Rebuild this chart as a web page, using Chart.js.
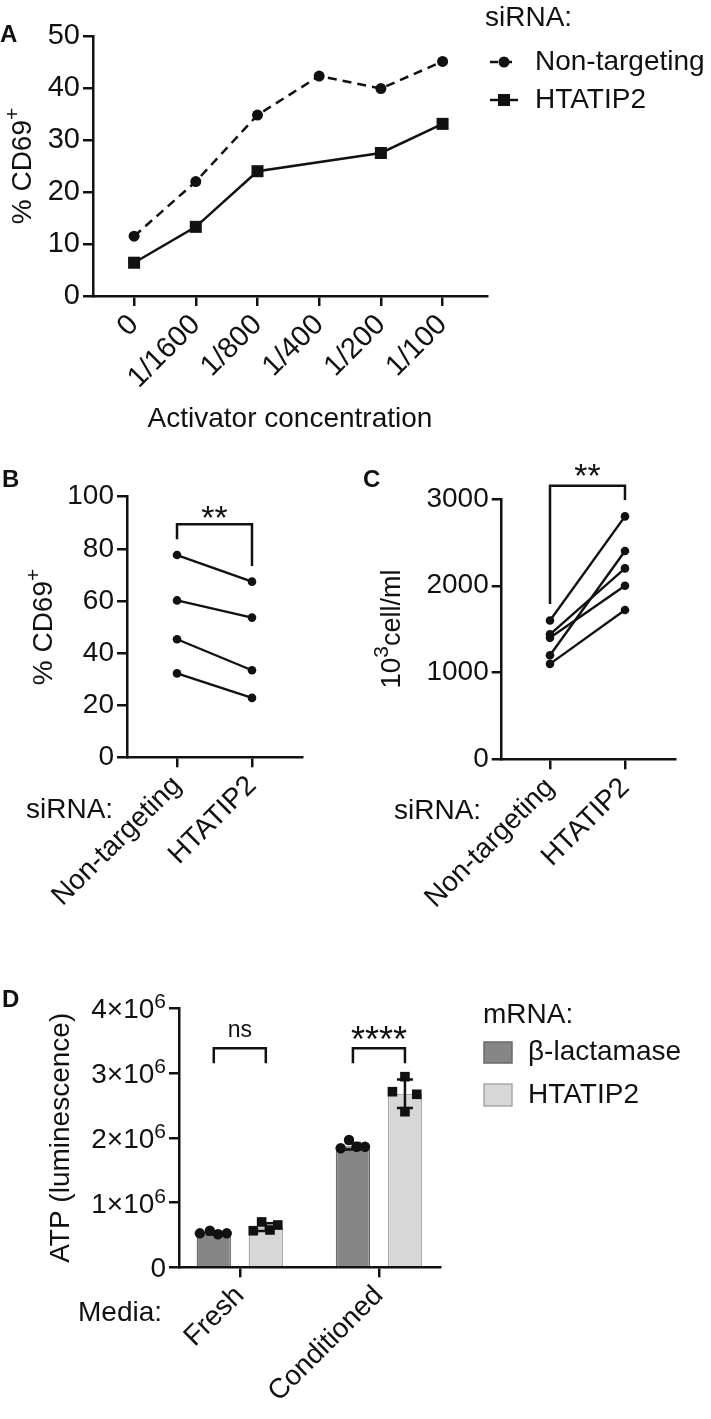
<!DOCTYPE html>
<html lang="en">
<head>
    <meta charset="UTF-8">
    <meta name="viewport" content="width=device-width, initial-scale=1.0">
    <title>HTATIP2 knockdown: CD69, cell counts and ATP</title>
    <script src="https://cdn.jsdelivr.net/npm/chart.js"></script>
    <style>
        body {
            margin: 0;
            background: #fff;
        }

        .panel {
            position: absolute;
        }
    </style>
</head>
<body>
    <div class="panel" style="left:0;top:0;width:711px;height:440px"><canvas id="chartA"></canvas></div>
    <div class="panel" style="left:0;top:440px;width:340px;height:490px"><canvas id="chartB"></canvas></div>
    <div class="panel" style="left:340px;top:440px;width:371px;height:490px"><canvas id="chartC"></canvas></div>
    <div class="panel" style="left:0;top:960px;width:711px;height:459px"><canvas id="chartD"></canvas></div>

    <script>
        // ---- data ----
        // A: % CD69+ vs activator concentration
        const concLabels = ['0', '1/1600', '1/800', '1/400', '1/200', '1/100'];
        const cd69NonTargeting = [11.5, 22.0, 34.8, 42.3, 39.9, 45.1];
        const cd69Htatip2 = [6.4, 13.3, 24.0, null, 27.5, 33.1];

        // B: paired % CD69+
        const siRnaLabels = ['Non-targeting', 'HTATIP2'];
        const pairedCd69NT = [77.6, 60.2, 45.3, 32.2];
        const pairedCd69HT = [67.4, 53.6, 33.4, 22.8];

        // C: paired cell counts (10^3 cell/ml)
        const cellsNT = [1600, 1440, 1400, 1200, 1100];
        const cellsHT = [2800, 2200, 2000, 2400, 1720];

        // D: ATP luminescence
        const mediaLabels = ['Fresh', 'Conditioned'];
        const atpTicks = [0, 1e6, 2e6, 3e6, 4e6];
        const atpLactamaseMean = [0.53e6, 1.87e6];
        const atpLactamaseSD = [0.02e6, 0.05e6];
        const atpHtatip2Mean = [0.62e6, 2.68e6];
        const atpHtatip2SD = [0.06e6, 0.22e6];
        const atpLactamasePoints = [[0.525e6, 0.565e6, 0.51e6, 0.525e6], [1.838e6, 1.966e6, 1.862e6, 1.862e6]];
        const atpHtatip2Points = [[0.565e6, 0.70e6, 0.576e6, 0.653e6], [2.712e6, 2.944e6, 2.672e6, 2.403e6]];

        // ---- layout / style ----
        const INK = '#111';
        const FONT = "'Liberation Sans', Arial, Helvetica, sans-serif";
        const AXIS_W = 2.5;
        const DARK = '#868686', DARK_EDGE = '#6a6a6a';
        const LIGHT = '#d7d7d7', LIGHT_EDGE = '#a8a8a8';
        const CAT_PCT = 0.748;  // bar group width relative to group spacing
        // horizontal scatter of the dots inside each bar, in x units
        const jitterLact = [[-0.1, -0.028, 0.03, 0.093], [-0.088, -0.028, 0.027, 0.087]];
        const jitterHt = [[-0.09, -0.03, 0.03, 0.086], [-0.09, 0, 0.085, 0]];

        Chart.defaults.font.family = FONT;
        Chart.defaults.color = INK;
        Chart.defaults.animation = false;
        Chart.defaults.plugins.legend.display = false;
        Chart.defaults.plugins.tooltip.enabled = false;

        function frame() {
            return {
                offset: false,
                grid: { drawOnChartArea: false, drawTicks: true, tickLength: 10, lineWidth: AXIS_W, color: INK, offset: false },
                border: { display: true, color: INK, width: AXIS_W }
            };
        }

        function catAxis(labels, min, max, height, size, title) {
            return Object.assign(frame(), {
                type: 'linear', bounds: 'data', min, max,
                afterBuildTicks: s => { s.ticks = labels.map((_, i) => ({ value: i })); },
                afterFit: s => { s.height = height; },
                ticks: { autoSkip: false, minRotation: 45, maxRotation: 45, padding: 2, font: { size }, callback: v => labels[v] },
                title: { display: !!title, text: title || '', font: { size: 28 }, padding: 4 }
            });
        }

        function valAxis(min, max, step, width, size, title, showLabels = true) {
            return Object.assign(frame(), {
                type: 'linear', min, max,
                afterFit: s => { s.width = width; },
                ticks: { display: showLabels, stepSize: step, padding: 3, font: { size }, callback: v => String(v) },
                title: { display: !!title, text: title || '', font: { size: 28 }, padding: 4 }
            });
        }

        function text(ctx, str, x, y, size, opts = {}) {
            ctx.save();
            ctx.fillStyle = INK;
            ctx.font = `${opts.bold ? 'bold ' : ''}${size}px ${FONT}`;
            ctx.textAlign = opts.align || 'left';
            ctx.textBaseline = opts.baseline || 'middle';
            ctx.fillText(str, x, y);
            ctx.restore();
        }

        // text with superscripts: parts = [[string, size, rise]], y is the baseline
        function richText(ctx, parts, x, y, opts = {}) {
            ctx.save();
            ctx.translate(x, y);
            if (opts.rotate) ctx.rotate(opts.rotate);
            ctx.fillStyle = INK;
            ctx.textAlign = 'left';
            ctx.textBaseline = 'alphabetic';
            const widths = parts.map(([t, s]) => { ctx.font = `${s}px ${FONT}`; return ctx.measureText(t).width; });
            const total = widths.reduce((a, b) => a + b, 0);
            let cx = opts.align === 'right' ? -total : opts.align === 'center' ? -total / 2 : 0;
            parts.forEach(([t, s, rise], i) => {
                ctx.font = `${s}px ${FONT}`;
                ctx.fillText(t, cx, -(rise || 0));
                cx += widths[i];
            });
            ctx.restore();
        }

        // vertical axis title, reading upwards, centred on the chart area
        function yTitle(chart, parts, baselineX) {
            const area = chart.chartArea;
            richText(chart.ctx, parts, baselineX, (area.top + area.bottom) / 2, { rotate: -Math.PI / 2, align: 'center' });
        }

        // significance bracket in data units, label lifted above the bar
        function bracket(chart, x1, x2, b) {
            const { ctx, scales: { y } } = chart;
            const top = y.getPixelForValue(b.top);
            ctx.save();
            ctx.strokeStyle = INK;
            ctx.lineWidth = AXIS_W;
            ctx.beginPath();
            ctx.moveTo(x1, y.getPixelForValue(b.leftEnd));
            ctx.lineTo(x1, top);
            ctx.lineTo(x2, top);
            ctx.lineTo(x2, y.getPixelForValue(b.rightEnd));
            ctx.stroke();
            ctx.restore();
            text(ctx, b.label, (x1 + x2) / 2, top - b.lift, b.size, { align: 'center', baseline: 'alphabetic' });
        }

        const pair = (a, b) => [{ x: 0, y: a }, { x: 1, y: b }];
        const CD69_TITLE = [['% CD69', 28, 0], ['+', 21, 12]];

        // ---- A ----
        new Chart(document.getElementById('chartA'), {
            type: 'line',
            data: {
                datasets: [{
                    data: cd69NonTargeting.map((y, i) => ({ x: i, y })),
                    borderColor: INK, backgroundColor: INK, borderWidth: 2.5, borderDash: [9, 6],
                    pointStyle: 'circle', pointRadius: 5.5, pointBorderWidth: 0, clip: false
                }, {
                    data: cd69Htatip2.map((y, i) => ({ x: i, y })),
                    borderColor: INK, backgroundColor: INK, borderWidth: 2.5, spanGaps: true,
                    pointStyle: 'rect', pointRadius: 8.5, pointBorderWidth: 0, clip: false
                }]
            },
            options: {
                responsive: true, maintainAspectRatio: false,
                layout: { padding: { top: 36, left: 0, right: 224, bottom: 0 } },
                scales: {
                    x: catAxis(concLabels, -0.666, 5.72, 144, 29, 'Activator concentration'),
                    y: valAxis(0, 50, 10, 93, 29)
                }
            },
            plugins: [{
                id: 'annotA',
                afterDraw(chart) {
                    const ctx = chart.ctx;
                    yTitle(chart, CD69_TITLE, 31);
                    text(ctx, 'A', 0, 35, 24, { bold: true });
                    text(ctx, 'siRNA:', 485, 18, 28);
                    ctx.save();
                    ctx.strokeStyle = INK; ctx.fillStyle = INK; ctx.lineWidth = 2.5;
                    ctx.setLineDash([8, 6]);
                    ctx.beginPath(); ctx.moveTo(490, 62); ctx.lineTo(518, 62); ctx.stroke();
                    ctx.setLineDash([]);
                    ctx.beginPath(); ctx.arc(504, 62, 5.5, 0, Math.PI * 2); ctx.fill();
                    ctx.beginPath(); ctx.moveTo(490, 100); ctx.lineTo(518, 100); ctx.stroke();
                    ctx.fillRect(498, 94, 12, 12);
                    ctx.restore();
                    text(ctx, 'Non-targeting', 535, 62, 28);
                    text(ctx, 'HTATIP2', 535, 100, 28);
                }
            }]
        });

        // ---- B ----
        new Chart(document.getElementById('chartB'), {
            type: 'line',
            data: {
                datasets: pairedCd69NT.map((v, i) => ({
                    data: pair(v, pairedCd69HT[i]),
                    borderColor: INK, backgroundColor: INK, borderWidth: 2.4,
                    pointRadius: 4.3, pointBorderWidth: 0, clip: false
                }))
            },
            options: {
                responsive: true, maintainAspectRatio: false,
                layout: { padding: { top: 56.7, left: 21, right: 38, bottom: 0 } },
                scales: {
                    x: catAxis(siRnaLabels, -0.667, 1.667, 172.7, 28),
                    y: valAxis(0, 100, 20, 106, 28)
                }
            },
            plugins: [{
                id: 'annotB',
                afterDraw(chart) {
                    const x = chart.scales.x;
                    bracket(chart, x.getPixelForValue(0), x.getPixelForValue(1),
                        { top: 89.4, leftEnd: 83.7, rightEnd: 73.4, label: '**', size: 34, lift: -5 });
                    yTitle(chart, CD69_TITLE, 52);
                    text(chart.ctx, 'B', 2, 47, 24, { bold: true, baseline: 'alphabetic' });
                    text(chart.ctx, 'siRNA:', 26, 370, 28);
                }
            }]
        });

        // ---- C ----
        new Chart(document.getElementById('chartC'), {
            type: 'line',
            data: {
                datasets: cellsNT.map((v, i) => ({
                    data: pair(v, cellsHT[i]),
                    borderColor: INK, backgroundColor: INK, borderWidth: 2.4,
                    pointRadius: 4.3, pointBorderWidth: 0, clip: false
                }))
            },
            options: {
                responsive: true, maintainAspectRatio: false,
                layout: { padding: { top: 59, left: 29, right: 36, bottom: 0 } },
                scales: {
                    x: catAxis(siRnaLabels, -0.644, 1.667, 170.7, 28),
                    y: valAxis(0, 3000, 1000, 132.7, 28)
                }
            },
            plugins: [{
                id: 'annotC',
                afterDraw(chart) {
                    const x = chart.scales.x;
                    bracket(chart, x.getPixelForValue(0), x.getPixelForValue(1),
                        { top: 3153, leftEnd: 1790, rightEnd: 2988, label: '**', size: 34, lift: -1 });
                    yTitle(chart, [['10', 28, 0], ['3', 21, 12], ['cell/ml', 27, 0]], 60);
                    text(chart.ctx, 'C', 23, 47, 24, { bold: true, baseline: 'alphabetic' });
                    text(chart.ctx, 'siRNA:', 54, 371, 28);
                }
            }]
        });

        // ---- D ----
        const shift = CAT_PCT / 4;
        const dots = (groups, jitter, side) => groups.flatMap((vals, g) =>
            vals.map((y, k) => ({ x: g + side * shift + jitter[g][k], y })));

        const yD = valAxis(0, 4e6, 1e6, 139, 28, 'ATP (luminescence)', false);
        yD.afterBuildTicks = s => { s.ticks = atpTicks.map(value => ({ value })); };

        new Chart(document.getElementById('chartD'), {
            type: 'bar',
            data: {
                datasets: [{
                    label: '\u03B2-lactamase',
                    data: atpLactamaseMean.map((y, i) => ({ x: i, y })),
                    backgroundColor: DARK, borderColor: DARK_EDGE, borderWidth: 1.5, order: 2
                }, {
                    label: 'HTATIP2',
                    data: atpHtatip2Mean.map((y, i) => ({ x: i, y })),
                    backgroundColor: LIGHT, borderColor: LIGHT_EDGE, borderWidth: 1.5, order: 2
                }, {
                    type: 'scatter',
                    data: dots(atpLactamasePoints, jitterLact, -1),
                    backgroundColor: INK, pointStyle: 'circle', pointRadius: 5.2, pointBorderWidth: 0, order: 1, clip: false
                }, {
                    type: 'scatter',
                    data: dots(atpHtatip2Points, jitterHt, 1),
                    backgroundColor: INK, pointStyle: 'rect', pointRadius: 6.8, pointBorderWidth: 0, order: 1, clip: false
                }]
            },
            options: {
                responsive: true, maintainAspectRatio: false,
                categoryPercentage: CAT_PCT, barPercentage: 0.66,
                layout: { padding: { top: 48.3, left: 40, right: 270.3, bottom: 0 } },
                scales: {
                    x: catAxis(mediaLabels, -0.437, 1.444, 151.7, 28),
                    y: yD
                }
            },
            plugins: [{
                id: 'annotD',
                afterDatasetsDraw(chart) {
                    const { ctx, scales: { y } } = chart;
                    const sets = [[0, atpLactamaseMean, atpLactamaseSD], [1, atpHtatip2Mean, atpHtatip2SD]];
                    ctx.save();
                    ctx.strokeStyle = INK;
                    ctx.lineWidth = 2.5;
                    sets.forEach(([idx, mean, sd]) => {
                        chart.getDatasetMeta(idx).data.forEach((bar, g) => {
                            const hi = y.getPixelForValue(mean[g] + sd[g]);
                            const lo = y.getPixelForValue(mean[g] - sd[g]);
                            ctx.beginPath();
                            ctx.moveTo(bar.x, hi); ctx.lineTo(bar.x, lo);
                            ctx.moveTo(bar.x - 8, hi); ctx.lineTo(bar.x + 8, hi);
                            ctx.moveTo(bar.x - 8, lo); ctx.lineTo(bar.x + 8, lo);
                            ctx.stroke();
                        });
                    });
                    ctx.restore();
                },
                afterDraw(chart) {
                    const { ctx, scales: { y } } = chart;
                    // y tick labels with a real superscript exponent
                    y.ticks.forEach(t => {
                        const parts = t.value === 0 ? [['0', 28, 0]]
                            : [[`${t.value / 1e6}\u00D710`, 28, 0], ['6', 21, 10]];
                        richText(ctx, parts, y.right - 13, y.getPixelForValue(t.value) + 10, { align: 'right' });
                    });
                    const lact = chart.getDatasetMeta(0).data;
                    const ht = chart.getDatasetMeta(1).data;
                    bracket(chart, lact[0].x, ht[0].x,
                        { top: 3.382e6, leftEnd: 3.15e6, rightEnd: 3.15e6, label: 'ns', size: 23, lift: 11.5 });
                    bracket(chart, lact[1].x, ht[1].x,
                        { top: 3.382e6, leftEnd: 3.15e6, rightEnd: 3.15e6, label: '****', size: 36, lift: -3.5 });
                    text(ctx, 'D', 2, 47, 24, { bold: true, baseline: 'alphabetic' });
                    text(ctx, 'Media:', 78, 353, 28);
                    // legend
                    text(ctx, 'mRNA:', 483, 55, 28);
                    ctx.save();
                    ctx.lineWidth = 1.5;
                    ctx.fillStyle = DARK; ctx.strokeStyle = DARK_EDGE;
                    ctx.fillRect(484, 82, 28, 21); ctx.strokeRect(484, 82, 28, 21);
                    ctx.fillStyle = LIGHT; ctx.strokeStyle = LIGHT_EDGE;
                    ctx.fillRect(484, 124, 28, 22); ctx.strokeRect(484, 124, 28, 22);
                    ctx.restore();
                    text(ctx, '\u03B2-lactamase', 528, 92, 28);
                    text(ctx, 'HTATIP2', 528, 135, 28);
                }
            }]
        });
    </script>
</body>
</html>
